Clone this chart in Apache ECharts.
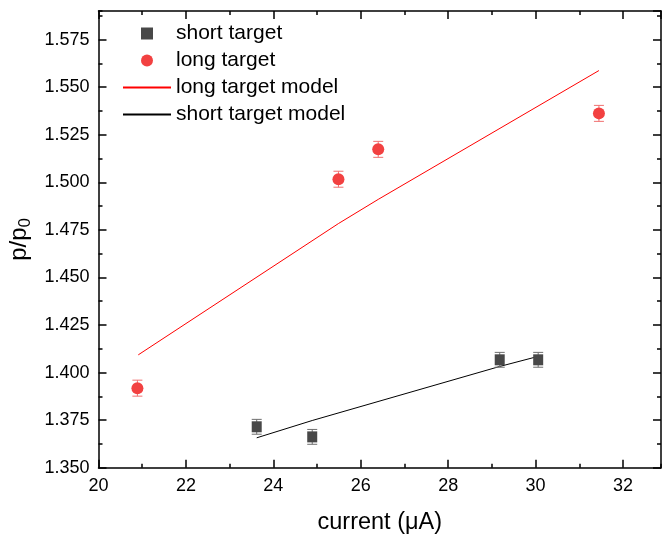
<!DOCTYPE html>
<html>
<head>
<meta charset="utf-8">
<script src="https://cdn.jsdelivr.net/npm/echarts@6/dist/echarts.min.js"></script>
<style>
  html, body { margin: 0; padding: 0; background: #fff; }
  #main { width: 662px; height: 538px; }
</style>
</head>
<body>
<div id="main"></div>
<script>
// measured points
const shortX = [23.62, 24.89, 29.18, 30.06];
const shortY = [1.3715, 1.3662, 1.4067, 1.4067];
const shortErr = [0.0039, 0.0039, 0.0039, 0.0039];

const longX = [20.89, 25.49, 26.40, 31.45];
const longY = [1.3918, 1.5016, 1.5173, 1.5362];
const longErr = [0.0042, 0.0042, 0.0042, 0.0042];

// model curves
const longModelX = [20.91, 25.49, 26.40, 31.45];
const longModelY = [1.4093, 1.4783, 1.4910, 1.5587];
const shortModelX = [23.62, 24.89, 29.18, 30.06];
const shortModelY = [1.3657, 1.3748, 1.4032, 1.4085];

const font = "'Liberation Sans', Arial, sans-serif";
const RED = '#f24141';
const GREY = '#484848';

const zip = (xs, ys, es) => xs.map((x, i) => es ? [x, ys[i], es[i]] : [x, ys[i]]);

// I-beam error bars
const errBar = (color) => (params, api) => {
  const x = api.value(0), y = api.value(1), e = api.value(2);
  const top = api.coord([x, y + e]);
  const bot = api.coord([x, y - e]);
  const w = 5;
  const style = { stroke: color, lineWidth: 1 };
  return {
    type: 'group',
    children: [
      { type: 'line', shape: { x1: top[0], y1: top[1], x2: bot[0], y2: bot[1] }, style },
      { type: 'line', shape: { x1: top[0] - w, y1: top[1], x2: top[0] + w, y2: top[1] }, style },
      { type: 'line', shape: { x1: bot[0] - w, y1: bot[1], x2: bot[0] + w, y2: bot[1] }, style }
    ]
  };
};

const line = { show: true, lineStyle: { color: '#000', width: 1.5 } };
const noLine = { show: false };

function axis(pos, interval, len, opts) {
  return Object.assign({
    type: 'value',
    position: pos,
    interval: interval,
    axisLine: noLine,
    axisTick: { show: true, inside: true, length: len, lineStyle: { color: '#000', width: 1.5 } },
    axisLabel: { show: false },
    splitLine: { show: false }
  }, opts);
}

const xMin = 20, xMax = 32.87, yMin = 1.35, yMax = 1.59;
const xr = { min: xMin, max: xMax };
const yr = { min: yMin, max: yMax };

const chart = echarts.init(document.getElementById('main'));
chart.setOption({
  animation: false,
  backgroundColor: '#fff',
  grid: { left: 98.5, right: 1, top: 11, bottom: 70.3, containLabel: false, outerBoundsMode: 'none' },
  legend: {
    orient: 'vertical',
    left: 122,
    top: 23,
    padding: 0,
    itemWidth: 48,
    itemHeight: 12,
    itemGap: 6,
    selectedMode: false,
    textStyle: { fontFamily: font, fontSize: 21, lineHeight: 20, color: '#000' },
    data: [
      { name: 'short target', icon: 'path://M0,0H10V10H0Z' },
      { name: 'long target', icon: 'circle' },
      { name: 'long target model', itemStyle: { opacity: 0 } },
      { name: 'short target model', itemStyle: { opacity: 0 } }
    ]
  },
  xAxis: [
    axis('bottom', 2, 8, Object.assign({}, xr, {
      axisLine: line,
      axisLabel: {
        show: true, showMaxLabel: false, margin: 9,
        fontFamily: font, fontSize: 18, color: '#000'
      },
      name: 'current (\u03bcA)',
      nameLocation: 'middle',
      nameGap: 43,
      nameTextStyle: { fontFamily: font, fontSize: 23.5, color: '#000' }
    })),
    axis('bottom', 1, 4, xr),
    axis('top', 2, 8, Object.assign({}, xr, { axisLine: line })),
    axis('top', 1, 4, xr)
  ],
  yAxis: [
    axis('left', 0.025, 8, Object.assign({}, yr, {
      axisLine: line,
      axisLabel: {
        show: true, showMaxLabel: false, margin: 9,
        fontFamily: font, fontSize: 18, color: '#000',
        formatter: v => v.toFixed(3)
      },
      name: 'p/p{s|0}',
      nameLocation: 'middle',
      nameGap: 63,
      nameTextStyle: {
        fontFamily: font, fontSize: 24, color: '#000',
        rich: { s: { fontFamily: font, fontSize: 17, color: '#000', padding: [11, 0, 0, 0] } }
      }
    })),
    axis('left', 0.0125, 4, yr),
    axis('right', 0.025, 8, Object.assign({}, yr, { axisLine: line })),
    axis('right', 0.0125, 4, yr)
  ],
  series: [
    {
      name: 'long target model', type: 'line', symbol: 'none', showSymbol: false,
      data: zip(longModelX, longModelY),
      lineStyle: { color: '#ff0000', width: 1 }, itemStyle: { color: '#ff0000' }, z: 1
    },
    {
      name: 'short target model', type: 'line', symbol: 'none', showSymbol: false,
      data: zip(shortModelX, shortModelY),
      lineStyle: { color: '#000', width: 1 }, itemStyle: { color: '#000' }, z: 1
    },
    {
      type: 'custom', renderItem: errBar('#f07070'),
      data: zip(longX, longY, longErr), encode: { x: 0, y: 1 }, z: 2, silent: true
    },
    {
      type: 'custom', renderItem: errBar('#6e6e6e'),
      data: zip(shortX, shortY, shortErr), encode: { x: 0, y: 1 }, z: 2, silent: true
    },
    {
      name: 'short target', type: 'scatter', symbol: 'rect', symbolSize: [10, 11],
      data: zip(shortX, shortY), itemStyle: { color: GREY, opacity: 1 }, z: 3
    },
    {
      name: 'long target', type: 'scatter', symbol: 'circle', symbolSize: 12,
      data: zip(longX, longY), itemStyle: { color: RED, opacity: 1 }, z: 3
    }
  ]
});
</script>
</body>
</html>
